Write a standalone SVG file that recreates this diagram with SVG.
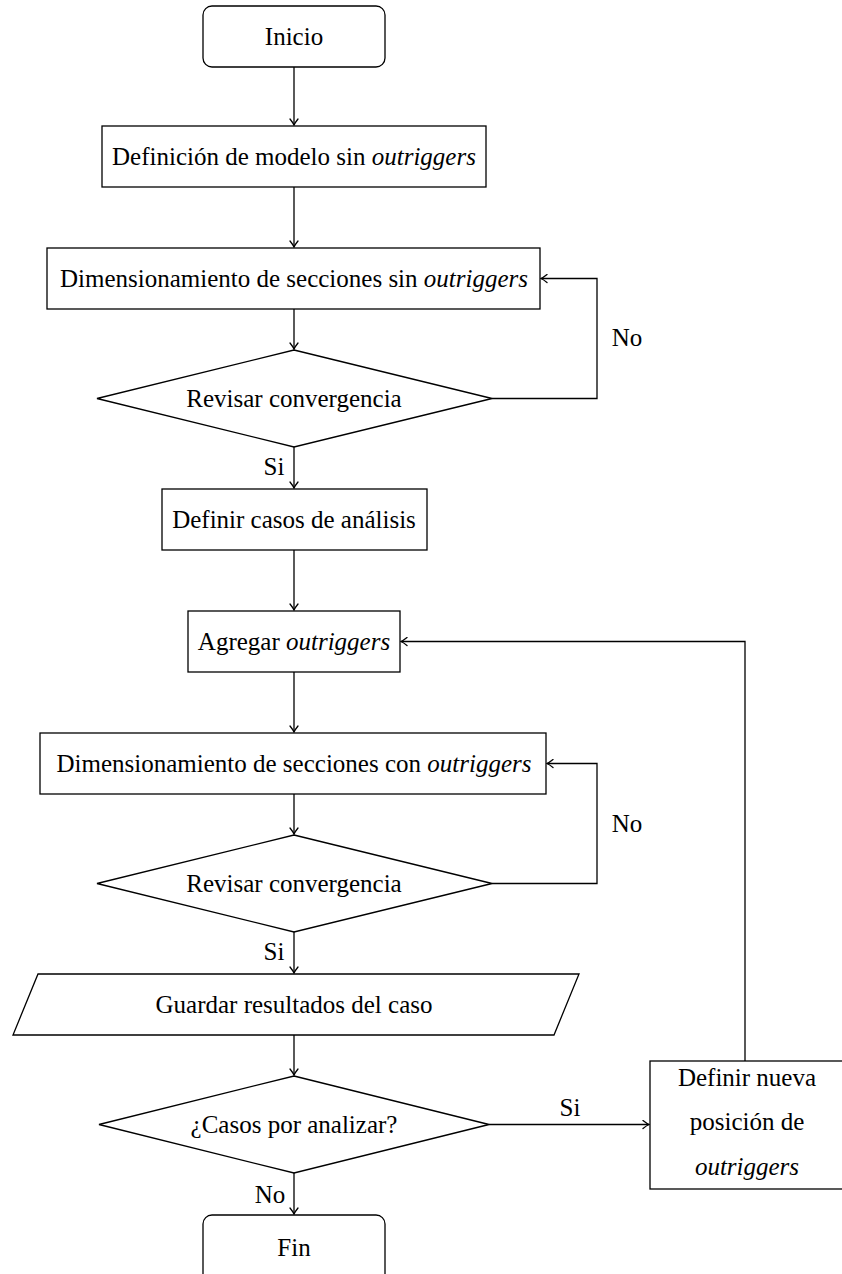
<svg xmlns="http://www.w3.org/2000/svg" width="842" height="1274" viewBox="0 0 842 1274">
<style>
.n{fill:#fff;stroke:#000;stroke-width:1.3}
.t{font-family:"Liberation Serif","Times New Roman",serif;font-size:25px;fill:#000;text-anchor:middle}
.i{font-style:italic}
.c{fill:none;stroke:#000;stroke-width:1.3}
</style>
<defs>
<marker id="a" viewBox="-8 -5 10 10" refX="0" refY="0" markerWidth="10" markerHeight="10" markerUnits="userSpaceOnUse" orient="auto">
<path d="M-6,-4 Q-2,-0.8 0,0 Q-2,0.8 -6,4" fill="none" stroke="#000" stroke-width="1.3" stroke-linecap="round"/>
</marker>
</defs>
<rect width="842" height="1274" fill="#fff"/>
<g id="connectors">
<path class="c" d="M294,67 V125" marker-end="url(#a)"/>
<path class="c" d="M294,187 V247" marker-end="url(#a)"/>
<path class="c" d="M294,309 V349" marker-end="url(#a)"/>
<path class="c" d="M492,398.5 H597 V278.5 H541" marker-end="url(#a)"/>
<text class="t" x="627" y="346">No</text>
<path class="c" d="M294,447 V488" marker-end="url(#a)"/>
<text class="t" x="274" y="475">Si</text>
<path class="c" d="M294,550 V610" marker-end="url(#a)"/>
<path class="c" d="M294,672 V732" marker-end="url(#a)"/>
<path class="c" d="M294,794 V834" marker-end="url(#a)"/>
<path class="c" d="M492,883.5 H597 V763.5 H547" marker-end="url(#a)"/>
<text class="t" x="627" y="832">No</text>
<path class="c" d="M294,932 V973" marker-end="url(#a)"/>
<text class="t" x="274" y="960">Si</text>
<path class="c" d="M294,1035 V1075" marker-end="url(#a)"/>
<path class="c" d="M489,1124.5 H649" marker-end="url(#a)"/>
<text class="t" x="570" y="1116">Si</text>
<path class="c" d="M745,1061 V641.5 H401" marker-end="url(#a)"/>
<path class="c" d="M294,1173 V1214" marker-end="url(#a)"/>
<text class="t" x="270" y="1203">No</text>
</g>
<g id="inicio">
<rect class="n" x="203" y="6" width="182" height="61" rx="9"/>
<text class="t" x="294" y="45">Inicio</text>
</g>
<g id="definicion">
<rect class="n" x="102" y="126" width="384" height="61"/>
<text class="t" x="294" y="165">Definición de modelo sin <tspan class="i">outriggers</tspan></text>
</g>
<g id="dim-sin">
<rect class="n" x="47" y="248" width="493" height="61"/>
<text class="t" x="294" y="287">Dimensionamiento de secciones sin <tspan class="i">outriggers</tspan></text>
</g>
<g id="rev1">
<polygon class="n" points="294,350 492,398.5 294,447 97,398.5"/>
<text class="t" x="294" y="407">Revisar convergencia</text>
</g>
<g id="casos">
<rect class="n" x="162" y="489" width="265" height="61"/>
<text class="t" x="294" y="528">Definir casos de análisis</text>
</g>
<g id="agregar">
<rect class="n" x="188" y="611" width="212" height="61"/>
<text class="t" x="294" y="650">Agregar <tspan class="i">outriggers</tspan></text>
</g>
<g id="dim-con">
<rect class="n" x="40" y="733" width="506" height="61"/>
<text class="t" x="294" y="772">Dimensionamiento de secciones con <tspan class="i">outriggers</tspan></text>
</g>
<g id="rev2">
<polygon class="n" points="294,835 492,883.5 294,932 97,883.5"/>
<text class="t" x="294" y="892">Revisar convergencia</text>
</g>
<g id="guardar">
<polygon class="n" points="38,974 579,974 554,1035 13,1035"/>
<text class="t" x="294" y="1013">Guardar resultados del caso</text>
</g>
<g id="casos-por">
<polygon class="n" points="294,1076 489,1124.5 294,1173 99,1124.5"/>
<text class="t" x="294" y="1133">¿Casos por analizar?</text>
</g>
<g id="nueva">
<rect class="n" x="650" y="1061" width="196" height="128"/>
<text class="t" x="747" y="1086">Definir nueva</text>
<text class="t" x="747" y="1130">posición de</text>
<text class="t i" x="747" y="1175">outriggers</text>
</g>
<g id="fin">
<rect class="n" x="203" y="1215" width="182" height="70" rx="9"/>
<text class="t" x="294" y="1256">Fin</text>
</g>
</svg>
